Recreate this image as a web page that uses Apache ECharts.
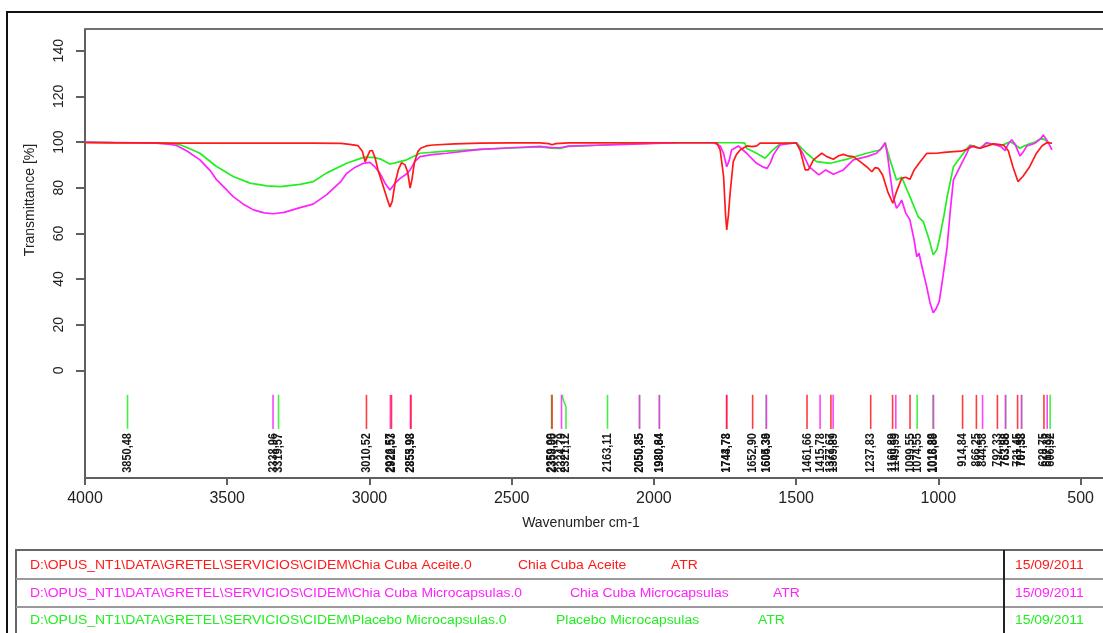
<!DOCTYPE html>
<html>
<head>
<meta charset="utf-8">
<script src="https://cdn.jsdelivr.net/npm/echarts@6/dist/echarts.min.js"></script>
<style>
html,body{margin:0;padding:0;background:#fff;}
#chart{width:1103px;height:633px;}
</style>
</head>
<body>
<div id="chart"></div>
<script>
// ---------- data ----------
const xTickValues = [4000, 3500, 3000, 2500, 2000, 1500, 1000, 500];
const yTickValues = [0, 20, 40, 60, 80, 100, 120, 140];

const seriesNames = ['Chia Cuba Aceite', 'Chia Cuba Microcapsulas', 'Placebo Microcapsulas'];
const seriesColors = ['#ff1a1a', '#ff22ff', '#22ee22'];

const aceite = [
 [4000,99.7],[3900,99.6],[3800,99.6],[3700,99.5],[3600,99.5],[3500,99.5],[3400,99.5],[3300,99.5],[3200,99.5],[3100,99.4],
 [3070,99.0],[3040,98.4],[3025,96],[3015,91.4],[3008,93.5],[2998,96.2],[2990,96.3],[2980,93],[2970,87.8],[2955,82],
 [2940,76],[2928,71.6],[2920,74],[2910,82],[2898,88],[2887,91],[2875,90],[2866,87],[2857,79.8],[2850,84],[2842,91],
 [2830,95.8],[2820,97.3],[2800,98.3],[2776,98.7],[2700,99.2],[2611,99.5],[2500,99.6],[2400,99.6],[2370,99.3],[2358,98.8],
 [2345,99.3],[2300,99.6],[2200,99.6],[2000,99.7],[1900,99.7],[1800,99.7],[1778,99.6],[1767,96.5],[1755,85],[1748,68],
 [1744,61.5],[1738,68],[1732,77.7],[1721,91.4],[1710,94.5],[1697,96.5],[1673,98.3],[1655,98.0],[1638,98.3],[1627,99.5],
 [1550,99.5],[1499,99.5],[1486,96.5],[1468,87.8],[1457,87.8],[1439,92.2],[1410,95.1],[1392,93.6],[1369,92.5],[1350,94],
 [1334,94.6],[1315,93.8],[1299,93.6],[1275,91.4],[1252,89.2],[1234,87],[1222,88.8],[1211,88.5],[1196,85.6],[1178,78.3],
 [1160,73.2],[1147,78.3],[1129,84.1],[1115,84.6],[1100,83.7],[1085,87.8],[1068,90.7],[1041,95],[1006,95.1],[980,95.5],
 [947,95.8],[920,96],[900,96.8],[876,98.3],[865,97.6],[853,97.3],[836,98],[807,99.2],[790,99],[771,98.7],[754,96.2],
 [738,89.2],[720,82.7],[703,84.9],[679,89.2],[655,95.1],[636,98.3],[619,99.7],[610,99.6],[600,99.5]
];

const microcapsulas = [
 [4000,100],[3900,99.8],[3800,99.6],[3750,99.5],[3700,99.0],[3678,98.5],[3640,96],[3596,92.2],[3560,87.5],[3537,83.4],
 [3500,78.8],[3479,76.1],[3440,72.5],[3408,70.3],[3370,69],[3338,68.6],[3300,69.2],[3244,71.3],[3198,72.8],[3150,77],
 [3100,82.8],[3080,86.3],[3050,89],[3021,90.7],[2998,91.1],[2980,89],[2963,86.3],[2945,82],[2928,79],[2910,82],
 [2892,84.1],[2870,86],[2857,87.8],[2840,91.5],[2822,93.6],[2780,94.5],[2728,95.1],[2611,96.8],[2500,97.5],[2400,98.1],
 [2360,97.6],[2330,97.5],[2300,98.2],[2200,98.6],[2100,99],[2000,99.4],[1908,99.7],[1790,99.7],[1767,98.3],[1755,95],
 [1744,89.2],[1735,92],[1727,96.5],[1703,98.3],[1674,95.1],[1639,90.7],[1615,89],[1602,88.5],[1590,91],[1579,94.6],
 [1557,98.7],[1499,99.7],[1477,95.1],[1455,89.2],[1420,85.6],[1396,87.8],[1369,85.9],[1334,87.8],[1299,92.2],[1252,93.6],
 [1217,95.1],[1195,98],[1187,99.7],[1178,93.6],[1168,84],[1159,76.1],[1147,71],[1138,72.5],[1129,74.6],[1115,69],
 [1100,65.9],[1085,57],[1076,49.8],[1068,51.3],[1055,44],[1041,36.7],[1030,30],[1018,25.3],[1008,27],[997,30.1],
 [985,40],[969,54.2],[958,70],[947,83.4],[918,90.7],[900,95],[889,98.3],[870,97.8],[853,97.3],[840,98.5],[832,99.7],
 [815,99.2],[797,98.7],[780,98],[765,96.2],[755,99],[742,101],[730,99],[713,93.9],[700,96],[689,98.3],[660,99.5],
 [640,101.5],[631,103.1],[622,101.5],[613,99.5],[606,98],[601,96.5]
];

const placebo = [
 [4000,100],[3900,99.8],[3800,99.7],[3700,99.4],[3670,99],[3640,97.5],[3596,95.1],[3540,89.5],[3479,84.9],[3420,82],
 [3361,80.8],[3314,80.5],[3244,81.5],[3197,82.7],[3150,86.5],[3080,90.7],[3021,93.3],[2986,93.3],[2960,92.5],[2928,90.4],
 [2900,91.2],[2869,92.2],[2822,95.1],[2728,96],[2611,96.8],[2500,97.4],[2400,97.9],[2360,97.3],[2330,97.2],[2300,98.1],
 [2200,98.6],[2100,99.2],[2000,99.5],[1908,99.7],[1800,99.7],[1700,99.7],[1680,99.5],[1674,97.3],[1639,95.1],[1609,92.9],
 [1586,96],[1557,99.2],[1499,99.7],[1463,95.1],[1428,91.4],[1380,90.7],[1321,92.5],[1252,95.1],[1205,96.5],[1187,99.7],
 [1170,92.2],[1147,83.4],[1129,84.6],[1100,76.1],[1071,67.3],[1053,65.2],[1032,57.1],[1018,50.6],[1005,53],[997,57.1],
 [980,68],[969,76.1],[947,89.2],[912,95.1],[889,98.7],[870,98],[853,97.3],[832,99.5],[800,99],[783,98.3],[765,99.2],
 [748,100.1],[730,98.8],[713,97.3],[695,98.5],[679,99.2],[660,100],[636,101.8],[620,100.5],[607,99.5]
];

// peak picks: [wavenumber, label position wavenumber]
const aceitePeaks = [[3010.52,3010.52],[2922.53,2922.53],[2853.93,2853.93],[2358.05,2358.05],[1743.73,1743.73],[1652.90,1652.90],
 [1461.66,1461.66],[1377.67,1377.67],[1237.83,1237.83],[1160.89,1160.89],[1099.55,1099.55],[914.84,914.84],[866.25,866.25],
 [792.33,792.33],[721.45,721.45],[628.75,628.75]];
const microPeaks = [[3338.96,3338.96],[2926.57,2926.57],[2855.98,2855.98],[2324.79,2324.79],[2050.35,2050.35],[1980.64,1980.64],
 [1744.78,1744.78],[1604.36,1604.36],[1415.78,1415.78],[1369.89,1369.89],[1149.59,1149.59],[1016.89,1016.89],[844.58,844.58],
 [763.86,763.86],[707.33,707.33],[617.32,617.32]];
const placeboPeaks = [[3850.48,3850.48],[3319.57,3319.57],[2359.90,2359.90],[2321.12,2309.0],[2163.11,2163.11],[2050.85,2050.85],
 [1980.84,1980.84],[1605.39,1605.39],[1074.55,1074.55],[1018.88,1018.88],[763.58,763.58],[707.58,707.58],[606.92,606.92]];

const tableRows = [
 ['D:\\OPUS_NT1\\DATA\\GRETEL\\SERVICIOS\\CIDEM\\Chia Cuba Aceite.0', 'Chia Cuba Aceite', 'ATR', '15/09/2011'],
 ['D:\\OPUS_NT1\\DATA\\GRETEL\\SERVICIOS\\CIDEM\\Chia Cuba Microcapsulas.0', 'Chia Cuba Microcapsulas', 'ATR', '15/09/2011'],
 ['D:\\OPUS_NT1\\DATA\\GRETEL\\SERVICIOS\\CIDEM\\Placebo Microcapsulas.0', 'Placebo Microcapsulas', 'ATR', '15/09/2011']
];

// ---------- layout ----------
const FONT = '"Liberation Sans", Arial, sans-serif';
const PEAK_TOP = -10.7, PEAK_BOT = -25.6, LABEL_TOP = -27.4;

function peakRender(params, api) {
  const wn = api.value(0), lw = api.value(1);
  const color = api.visual('color');
  const top = api.coord([wn, PEAK_TOP]);
  const bot = api.coord([lw, PEAK_BOT]);
  const lab = api.coord([lw, LABEL_TOP]);
  let pts;
  if (Math.abs(wn - lw) < 0.01) pts = [top, bot];
  else pts = [top, [top[0], top[1] + 3], [bot[0], top[1] + 12], bot];
  return {
    type: 'group',
    children: [
      { type: 'polyline', shape: { points: pts }, style: { stroke: color, lineWidth: 1.6, fill: null, opacity: 0.85 } },
      { type: 'text', x: lab[0], y: lab[1], rotation: Math.PI / 2, scaleY: 1.15,
        style: { text: wn.toFixed(2).replace('.', ','), align: 'right', verticalAlign: 'middle',
                 font: 'bold 11px ' + FONT, fill: '#151515' } }
    ]
  };
}

function lineSeries(name, data, color, z) {
  return { name, type: 'line', data, showSymbol: false, symbol: 'none', z,
    lineStyle: { color, width: 1.7 }, itemStyle: { color }, animation: false, silent: true };
}
function peakSeries(name, data, color, z) {
  return { name: name + ' peaks', type: 'custom', data, renderItem: peakRender, z,
    itemStyle: { color }, encode: { x: 0, y: 1 }, animation: false, silent: true, clip: false };
}

const graphics = [];
graphics.push({ type: 'rect', shape: { x: 7, y: 12, width: 1200, height: 700 }, style: { fill: null, stroke: '#111', lineWidth: 2 }, z: 100 });
graphics.push({ type: 'line', shape: { x1: 85, y1: 29, x2: 1110, y2: 29 }, style: { stroke: '#707070', lineWidth: 2 }, z: 100 });
graphics.push({ type: 'text', x: 30, y: 200, rotation: Math.PI / 2,
  style: { text: 'Transmittance [%]', font: '14px ' + FONT, fill: '#222', align: 'center', verticalAlign: 'middle' }, z: 100 });
graphics.push({ type: 'text', x: 581, y: 523,
  style: { text: 'Wavenumber cm-1', font: '14px ' + FONT, fill: '#222', align: 'center', verticalAlign: 'middle' }, z: 100 });
// table
graphics.push({ type: 'rect', shape: { x: 16, y: 550, width: 1200, height: 200 }, style: { fill: null, stroke: '#666', lineWidth: 2 }, z: 100 });
graphics.push({ type: 'line', shape: { x1: 16, y1: 579, x2: 1110, y2: 579 }, style: { stroke: '#9a9a9a', lineWidth: 2 }, z: 100 });
graphics.push({ type: 'line', shape: { x1: 16, y1: 607, x2: 1110, y2: 607 }, style: { stroke: '#9a9a9a', lineWidth: 2 }, z: 100 });
graphics.push({ type: 'line', shape: { x1: 1004, y1: 550, x2: 1004, y2: 640 }, style: { stroke: '#222', lineWidth: 2 }, z: 100 });
const rowY = [566, 594, 621];
const colX = [[30, 518, 671, 1015], [30, 570, 773, 1015], [30, 556, 758, 1015]];
tableRows.forEach((row, i) => {
  row.forEach((txt, j) => {
    graphics.push({ type: 'text', x: colX[i][j], y: rowY[i], scaleX: 1.16,
      style: { text: txt, font: '12px ' + FONT, fill: seriesColors[i], align: 'left', verticalAlign: 'middle' }, z: 100 });
  });
});

const chart = echarts.init(document.getElementById('chart'), null, { renderer: 'canvas' });
chart.setOption({
  backgroundColor: '#fff',
  animation: false,
  grid: { left: 85, top: 29, width: 1137.8, height: 449, containLabel: false, outerBoundsMode: 'none' },
  xAxis: {
    type: 'value', inverse: true, min: 0, max: 4000, interval: 500,
    axisLine: { show: true, onZero: false, lineStyle: { color: '#606060', width: 2 } },
    axisTick: { show: true, length: 7, lineStyle: { color: '#606060', width: 2 } },
    axisLabel: { show: true, margin: 13, color: '#222', fontSize: 16, fontFamily: FONT,
      formatter: v => (xTickValues.indexOf(v) >= 0 ? String(v) : '') },
    splitLine: { show: false }
  },
  yAxis: {
    type: 'value', min: -47.1, max: 149.5,
    axisLine: { show: true, onZero: false, lineStyle: { color: '#606060', width: 2 } },
    axisTick: { show: true, length: 9, customValues: yTickValues, lineStyle: { color: '#606060', width: 2 } },
    axisLabel: { show: true, rotate: 90, margin: 19, color: '#222', fontSize: 14, fontFamily: FONT, customValues: yTickValues },
    splitLine: { show: false }
  },
  series: [
    lineSeries(seriesNames[2], placebo, seriesColors[2], 2),
    lineSeries(seriesNames[1], microcapsulas, seriesColors[1], 3),
    lineSeries(seriesNames[0], aceite, seriesColors[0], 4),
    peakSeries(seriesNames[2], placeboPeaks, seriesColors[2], 5),
    peakSeries(seriesNames[1], microPeaks, seriesColors[1], 6),
    peakSeries(seriesNames[0], aceitePeaks, seriesColors[0], 7)
  ],
  graphic: { elements: graphics }
});
</script>
</body>
</html>
